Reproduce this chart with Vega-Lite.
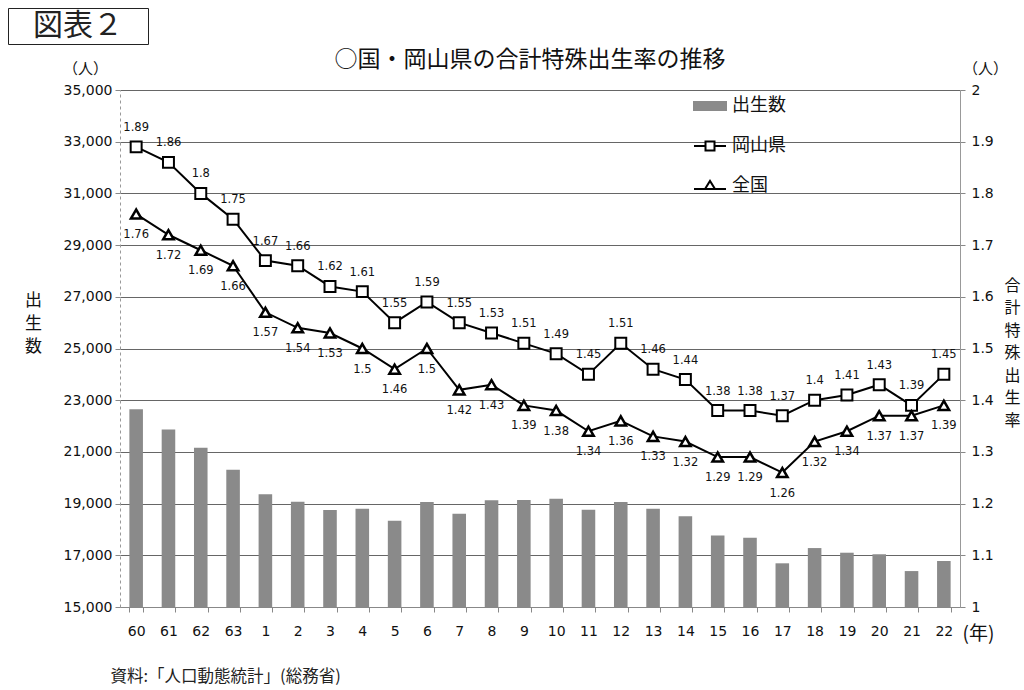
{
  "$schema": "https://vega.github.io/schema/vega-lite/v6.json",
  "autosize": {"type": "none"},
  "padding": {"left": 120, "top": 90, "right": 64, "bottom": 83},
  "width": 840,
  "height": 517,
  "background": "white",
  "config": {"font": "Noto Sans CJK JP", "view": {"stroke": null}},
  "datasets": {
    "births": [
      {"year": "60", "births": 22650}, {"year": "61", "births": 21870}, {"year": "62", "births": 21160}, {"year": "63", "births": 20310},
      {"year": "1", "births": 19360}, {"year": "2", "births": 19070}, {"year": "3", "births": 18750}, {"year": "4", "births": 18800},
      {"year": "5", "births": 18340}, {"year": "6", "births": 19060}, {"year": "7", "births": 18610}, {"year": "8", "births": 19130},
      {"year": "9", "births": 19140}, {"year": "10", "births": 19190}, {"year": "11", "births": 18765}, {"year": "12", "births": 19060},
      {"year": "13", "births": 18800}, {"year": "14", "births": 18510}, {"year": "15", "births": 17770}, {"year": "16", "births": 17680},
      {"year": "17", "births": 16690}, {"year": "18", "births": 17280}, {"year": "19", "births": 17100}, {"year": "20", "births": 17040},
      {"year": "21", "births": 16390}, {"year": "22", "births": 16780}
    ],
    "rates": [
      {"year": "60", "series": "岡山県", "rate": 1.89}, {"year": "61", "series": "岡山県", "rate": 1.86}, {"year": "62", "series": "岡山県", "rate": 1.8}, {"year": "63", "series": "岡山県", "rate": 1.75},
      {"year": "1", "series": "岡山県", "rate": 1.67}, {"year": "2", "series": "岡山県", "rate": 1.66}, {"year": "3", "series": "岡山県", "rate": 1.62}, {"year": "4", "series": "岡山県", "rate": 1.61},
      {"year": "5", "series": "岡山県", "rate": 1.55}, {"year": "6", "series": "岡山県", "rate": 1.59}, {"year": "7", "series": "岡山県", "rate": 1.55}, {"year": "8", "series": "岡山県", "rate": 1.53},
      {"year": "9", "series": "岡山県", "rate": 1.51}, {"year": "10", "series": "岡山県", "rate": 1.49}, {"year": "11", "series": "岡山県", "rate": 1.45}, {"year": "12", "series": "岡山県", "rate": 1.51},
      {"year": "13", "series": "岡山県", "rate": 1.46}, {"year": "14", "series": "岡山県", "rate": 1.44}, {"year": "15", "series": "岡山県", "rate": 1.38}, {"year": "16", "series": "岡山県", "rate": 1.38},
      {"year": "17", "series": "岡山県", "rate": 1.37}, {"year": "18", "series": "岡山県", "rate": 1.4}, {"year": "19", "series": "岡山県", "rate": 1.41}, {"year": "20", "series": "岡山県", "rate": 1.43},
      {"year": "21", "series": "岡山県", "rate": 1.39}, {"year": "22", "series": "岡山県", "rate": 1.45},
      {"year": "60", "series": "全国", "rate": 1.76}, {"year": "61", "series": "全国", "rate": 1.72}, {"year": "62", "series": "全国", "rate": 1.69}, {"year": "63", "series": "全国", "rate": 1.66},
      {"year": "1", "series": "全国", "rate": 1.57}, {"year": "2", "series": "全国", "rate": 1.54}, {"year": "3", "series": "全国", "rate": 1.53}, {"year": "4", "series": "全国", "rate": 1.5},
      {"year": "5", "series": "全国", "rate": 1.46}, {"year": "6", "series": "全国", "rate": 1.5}, {"year": "7", "series": "全国", "rate": 1.42}, {"year": "8", "series": "全国", "rate": 1.43},
      {"year": "9", "series": "全国", "rate": 1.39}, {"year": "10", "series": "全国", "rate": 1.38}, {"year": "11", "series": "全国", "rate": 1.34}, {"year": "12", "series": "全国", "rate": 1.36},
      {"year": "13", "series": "全国", "rate": 1.33}, {"year": "14", "series": "全国", "rate": 1.32}, {"year": "15", "series": "全国", "rate": 1.29}, {"year": "16", "series": "全国", "rate": 1.29},
      {"year": "17", "series": "全国", "rate": 1.26}, {"year": "18", "series": "全国", "rate": 1.32}, {"year": "19", "series": "全国", "rate": 1.34}, {"year": "20", "series": "全国", "rate": 1.37},
      {"year": "21", "series": "全国", "rate": 1.37}, {"year": "22", "series": "全国", "rate": 1.39}
    ]
  },
  "title": {"text": "○国・岡山県の合計特殊出生率の推移", "fontSize": 23, "fontWeight": "normal", "offset": -64, "anchor": "middle", "frame": "group", "dx": -10, "font": "Noto Sans CJK JP", "color": "#111"},
  "resolve": {"scale": {"y": "independent"}, "axis": {"x": "independent", "y": "independent"}},
  "layer": [
    {
      "data": {"name": "births"},
      "mark": {"type": "bar", "color": "#8a8a8a"},
      "encoding": {
        "x": {
          "field": "year", "type": "nominal",
          "sort": ["60","61","62","63","1","2","3","4","5","6","7","8","9","10","11","12","13","14","15","16","17","18","19","20","21","22"],
          "scale": {"paddingInner": 0.58, "paddingOuter": 0.29},
          "axis": {"title": "(年)", "titleX": 858, "titleY": 26, "titleAngle": 0, "titleAlign": "center", "titleBaseline": "middle", "titleFontSize": 19, "titleFontWeight": "normal", "titleFont": "Noto Sans CJK JP", "titleColor": "#111",
                   "labelAngle": 0, "labelFont": "DejaVu Sans", "labelFontSize": 14, "labelColor": "#111", "labelPadding": 12,
                   "tickBand": "extent", "tickSize": 5, "tickColor": "#888", "domainColor": "#888", "grid": false}
        },
        "y": {"field": "births", "type": "quantitative",
              "scale": {"domain": [15000, 35000], "zero": false, "nice": false},
              "axis": {"orient": "left", "values": [15000,17000,19000,21000,23000,25000,27000,29000,31000,33000,35000], "labelExpr": "format(datum.value, ',')",
                       "labelFont": "DejaVu Sans", "labelFontSize": 14, "labelColor": "#111", "labelPadding": 3,
                       "tickSize": 5, "tickColor": "#888", "domainColor": "#999", "domainDash": [3, 3],
                       "grid": true, "gridColor": "#666", "gridWidth": 1,
                       "title": ["出", "生", "数"], "titleAngle": 0, "titleX": -87, "titleY": 202, "titleAlign": "center", "titleBaseline": "top",
                       "titleFontSize": 17, "titleFontWeight": "normal", "titleLineHeight": 23, "titleFont": "Noto Sans CJK JP", "titleColor": "#111"}},
        "y2": {"datum": 15000}
      }
    },
    {
      "data": {"name": "rates"},
      "encoding": {
        "x": {
          "field": "year", "type": "nominal",
          "sort": ["60","61","62","63","1","2","3","4","5","6","7","8","9","10","11","12","13","14","15","16","17","18","19","20","21","22"],
          "axis": null
        },
        "y": {"field": "rate", "type": "quantitative",
              "scale": {"domain": [1, 2], "zero": false, "nice": false},
              "axis": {"orient": "right", "values": [1,1.1,1.2,1.3,1.4,1.5,1.6,1.7,1.8,1.9,2], "labelExpr": "format(datum.value, '~g')",
                       "labelFont": "DejaVu Sans", "labelFontSize": 14, "labelColor": "#111", "labelPadding": 6,
                       "tickSize": 5, "tickColor": "#888", "domainColor": "#999", "grid": false,
                       "title": ["合", "計", "特", "殊", "出", "生", "率"], "titleAngle": 0, "titleX": 52, "titleY": 187, "titleAlign": "center", "titleBaseline": "top",
                       "titleFontSize": 16, "titleFontWeight": "normal", "titleLineHeight": 22.5, "titleFont": "Noto Sans CJK JP", "titleColor": "#111"}}
      },
      "layer": [
        {"mark": {"type": "line", "color": "black", "strokeWidth": 2}, "encoding": {"detail": {"field": "series", "type": "nominal"}}},
        {"transform": [{"filter": "datum.series === '岡山県'"}],
         "mark": {"type": "point", "shape": "square", "size": 120, "filled": true, "fill": "white", "stroke": "black", "strokeWidth": 2, "opacity": 1}},
        {"transform": [{"filter": "datum.series === '全国'"}],
         "mark": {"type": "point", "shape": "triangle-up", "size": 110, "filled": true, "fill": "white", "stroke": "black", "strokeWidth": 2.5, "opacity": 1}},
        {"transform": [{"filter": "datum.series === '岡山県'"}],
         "mark": {"type": "text", "dy": -19, "font": "DejaVu Sans", "fontSize": 11.5, "color": "#111"},
         "encoding": {"text": {"field": "rate", "type": "quantitative", "format": "~g"}}},
        {"transform": [{"filter": "datum.series === '全国'"}],
         "mark": {"type": "text", "dy": 21, "font": "DejaVu Sans", "fontSize": 11.5, "color": "#111"},
         "encoding": {"text": {"field": "rate", "type": "quantitative", "format": "~g"}}}
      ]
    },
    {
      "data": {"name": "births"},
      "transform": [{"filter": "false"}],
      "mark": "point",
      "encoding": {
        "y": {"field": "births", "type": "quantitative", "scale": {"domain": [15000, 35000], "nice": false, "zero": false},
              "axis": {"orient": "left", "labels": false, "ticks": false, "domain": false, "grid": false,
                       "title": "（人）", "titleAngle": 0, "titleX": -35, "titleY": -22, "titleAlign": "center", "titleBaseline": "middle",
                       "titleFontSize": 15, "titleFontWeight": "normal", "titleFont": "Noto Sans CJK JP", "titleColor": "#111"}}
      }
    },
    {
      "data": {"name": "rates"},
      "transform": [{"filter": "false"}],
      "mark": "point",
      "encoding": {
        "y": {"field": "rate", "type": "quantitative", "scale": {"domain": [1, 2], "nice": false, "zero": false},
              "axis": {"orient": "right", "labels": false, "ticks": false, "domain": false, "grid": false,
                       "title": "（人）", "titleAngle": 0, "titleX": 25, "titleY": -22, "titleAlign": "center", "titleBaseline": "middle",
                       "titleFontSize": 15, "titleFontWeight": "normal", "titleFont": "Noto Sans CJK JP", "titleColor": "#111"}}
      }
    },
    {
      "data": {"name": "births"},
      "transform": [{"filter": "false"}],
      "mark": "point",
      "encoding": {
        "x": {"field": "year", "type": "nominal",
              "sort": ["60","61","62","63","1","2","3","4","5","6","7","8","9","10","11","12","13","14","15","16","17","18","19","20","21","22"],
              "axis": {"orient": "bottom", "labels": false, "ticks": false, "domain": false, "grid": false,
                       "title": "資料:「人口動態統計」(総務省)", "titleX": -10, "titleY": 69, "titleAngle": 0, "titleAlign": "left", "titleBaseline": "middle",
                       "titleFontSize": 16.5, "titleFontWeight": "normal", "titleFont": "Noto Sans CJK JP", "titleColor": "#222"}},
        "opacity": {"field": "year", "type": "ordinal",
                    "scale": {"domain": ["図表２"], "range": [0, 0]},
                    "legend": {"title": "⠀図表２⠀", "orient": "none", "legendX": -112, "legendY": -82,
                               "titleFont": "Noto Sans CJK JP", "titleFontSize": 30, "titleFontWeight": "normal", "titleColor": "#222", "titlePadding": 0,
                               "labelExpr": "''", "labelFontSize": 1, "symbolSize": 1, "padding": 3,
                               "strokeColor": "#222"}}
      }
    },
    {
      "data": {"name": "rates"},
      "transform": [{"filter": "false"}],
      "mark": {"type": "point", "filled": true},
      "encoding": {
        "fill": {"field": "series", "type": "nominal",
                 "scale": {"domain": ["出生数", "岡山県", "全国"], "range": ["#8a8a8a", "white", "white"]},
                 "legend": {"title": null, "orient": "none", "legendX": 579, "legendY": 5, "symbolSize": 400, "symbolStrokeWidth": 2, "symbolOpacity": 1,
                            "labelFont": "Noto Sans CJK JP", "labelFontSize": 18, "labelColor": "#111", "labelOffset": 11, "rowPadding": 20, "padding": 0}},
        "stroke": {"field": "series", "type": "nominal",
                   "scale": {"domain": ["出生数", "岡山県", "全国"], "range": ["#8a8a8a", "black", "black"]},
                   "legend": {"title": null, "orient": "none", "legendX": 579, "legendY": 5, "symbolSize": 400, "symbolStrokeWidth": 2, "symbolOpacity": 1,
                              "labelFont": "Noto Sans CJK JP", "labelFontSize": 18, "labelColor": "#111", "labelOffset": 11, "rowPadding": 20, "padding": 0}},
        "shape": {"field": "series", "type": "nominal",
                  "scale": {"domain": ["出生数", "岡山県", "全国"],
                            "range": ["M-1.6,-0.4H1.6V0.4H-1.6Z", "M-1.6,0H-0.45M0.45,0H1.6M-0.45,-0.45H0.45V0.45H-0.45Z", "M-1.6,0.3H1.6M-0.5,0.3L0,-0.5L0.5,0.3Z"]},
                  "legend": {"title": null, "orient": "none", "legendX": 579, "legendY": 5, "symbolSize": 400, "symbolStrokeWidth": 2, "symbolOpacity": 1,
                             "labelFont": "Noto Sans CJK JP", "labelFontSize": 18, "labelColor": "#111", "labelOffset": 11, "rowPadding": 20, "padding": 0}}
      }
    }
  ]
}
